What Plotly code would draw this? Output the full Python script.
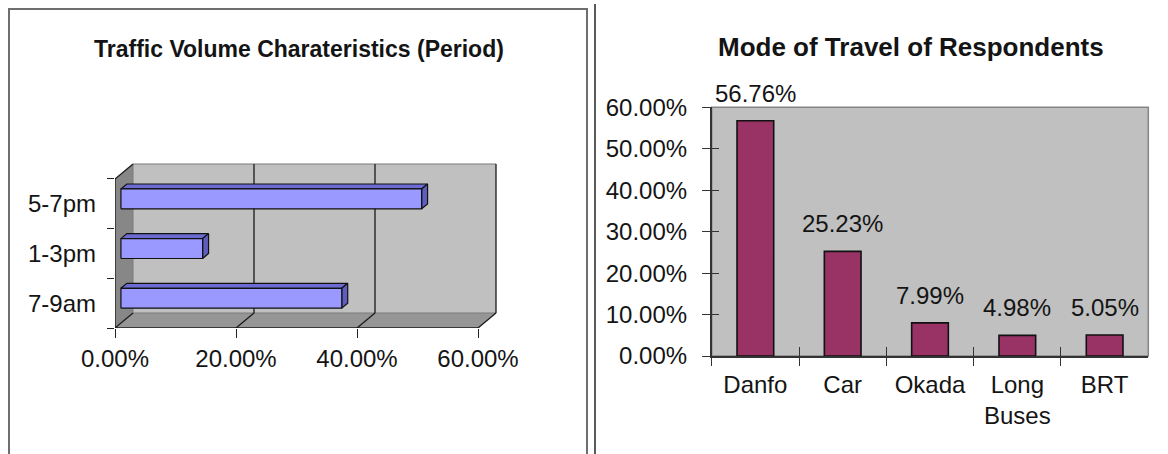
import plotly.graph_objects as go

# ---------------- data ----------------
periods = ["7-9am", "1-3pm", "5-7pm"]
period_share = [36.5, 13.5, 49.7]
period_ticks = [0, 20, 40, 60]

modes = ["Danfo", "Car", "Okada", "Long<br>Buses", "BRT"]
mode_share = [56.76, 25.23, 7.99, 4.98, 5.05]
mode_ticks = [0, 10, 20, 30, 40, 50, 60]

left_title = "Traffic Volume Charateristics (Period)"
right_title = "Mode of Travel of Respondents"

# ---------------- layout helpers ----------------
W, H = 1168, 454
FONT = "Arial, 'Liberation Sans', sans-serif"
TXT = "#141414"


def fx(px):
    return px / W


def fy(py):
    return 1 - py / H


# left (pseudo 3-D) chart geometry, in pixels
L_X0, L_PXPCT, L_RIGHT = 115, 6.05, 520
L_FLOOR, L_TOP, L_BAND = 328, 150, 49.67
xr = [0, (L_RIGHT - L_X0) / L_PXPCT]
yr = [-0.5, -0.5 + (L_FLOOR - L_TOP) / L_BAND]
DX = 18 / L_PXPCT          # wall depth in % units
DY = 15 / L_BAND           # wall depth in category units
XMAX = period_ticks[-1]
ylo, yhi = -0.5, len(periods) - 0.5


def poly(xs, ys, fill, line="rgba(0,0,0,0)", w=0):
    return go.Scatter(x=xs + [xs[0]], y=ys + [ys[0]], fill="toself", fillcolor=fill,
                      mode="lines", line=dict(color=line, width=w),
                      hoverinfo="skip", showlegend=False, xaxis="x", yaxis="y")


def segs(pairs, color, w):
    xs, ys = [], []
    for (a, b), (c, d) in pairs:
        xs += [a, c, None]
        ys += [b, d, None]
    return go.Scatter(x=xs, y=ys, mode="lines", line=dict(color=color, width=w),
                      hoverinfo="skip", showlegend=False, xaxis="x", yaxis="y")


traces = []
# walls
traces.append(poly([DX, XMAX + DX, XMAX + DX, DX], [ylo + DY, ylo + DY, yhi + DY, yhi + DY], "#C0C0C0"))
traces.append(poly([0, DX, DX, 0], [ylo, ylo + DY, yhi + DY, yhi], "#878787"))
traces.append(poly([0, XMAX, XMAX + DX, DX], [ylo, ylo, ylo + DY, ylo + DY], "#969696"))
# soft wall edges
traces.append(segs([((DX, yhi + DY), (XMAX + DX, yhi + DY)),
                    ((DX, ylo + DY), (DX, yhi + DY)),
                    ((DX, ylo + DY), (XMAX + DX, ylo + DY))], "#7a7a7a", 1))
# gridlines + dark edges
dark = []
for t in period_ticks[1:]:
    dark.append(((t + DX, ylo + DY), (t + DX, yhi + DY)))
for t in period_ticks:
    dark.append(((t, ylo), (t + DX, ylo + DY)))
dark.append(((0, ylo), (XMAX, ylo)))
dark.append(((0, ylo), (0, yhi)))
dark.append(((0, yhi), (DX, yhi + DY)))
traces.append(segs(dark, "#1a1a1a", 1.3))

# bars
FB = 0.33
bdx, bdy = FB * DX, FB * DY
for i, v in enumerate(period_share):
    x0 = FB * DX
    y0 = i - 0.2 + FB * DY
    y1 = i + 0.2 + FB * DY
    traces.append(poly([x0, x0 + v, x0 + v + bdx, x0 + bdx], [y1, y1, y1 + bdy, y1 + bdy],
                       "#6B6BD2", "#111", 1.2))
    traces.append(poly([x0 + v, x0 + v + bdx, x0 + v + bdx, x0 + v], [y0, y0 + bdy, y1 + bdy, y1],
                       "#5E5EBE", "#111", 1.2))
    traces.append(poly([x0, x0 + v, x0 + v, x0], [y0, y0, y1, y1], "#9999FF", "#111", 1.2))

# helper trace for y label axis
traces.append(go.Scatter(x=[None], y=[None], xaxis="x", yaxis="y3", showlegend=False, hoverinfo="skip"))

# right chart
traces.append(go.Bar(x=modes, y=mode_share, xaxis="x2", yaxis="y2",
                     marker=dict(color="#993366", line=dict(color="#111", width=1.6)),
                     hoverinfo="skip", showlegend=False))
traces.append(go.Scatter(x=[None], y=[None], xaxis="x4", yaxis="y2", showlegend=False, hoverinfo="skip"))
traces.append(go.Scatter(x=[None], y=[None], xaxis="x2", yaxis="y4", showlegend=False, hoverinfo="skip"))

fig = go.Figure(traces)

tick_font = dict(family=FONT, size=24, color=TXT)
R_L, R_R, R_T, R_B = 711.7, 1148.3, 107.3, 356

fig.update_layout(
    template="none",
    width=W, height=H, margin=dict(l=0, r=0, t=0, b=0, pad=0, autoexpand=False),
    paper_bgcolor="white", plot_bgcolor="rgba(0,0,0,0)",
    font=dict(family=FONT, color=TXT), bargap=0.58, showlegend=False,
    xaxis=dict(domain=[fx(L_X0), fx(L_RIGHT)], range=xr, anchor="y", automargin=False,
               tickvals=period_ticks, ticktext=[f"{t:.2f}%" for t in period_ticks],
               ticks="outside", ticklen=9, tickcolor="#222", tickwidth=1.3,
               showgrid=False, zeroline=False, showline=False, tickfont=tick_font,
               ticklabelstandoff=0),
    yaxis=dict(domain=[fy(L_FLOOR), fy(L_TOP)], range=yr, anchor="x", automargin=False,
               tickvals=[k - 0.5 for k in range(len(periods) + 1)],
               ticks="outside", ticklen=7, tickcolor="#222", tickwidth=1.3,
               showticklabels=False, showgrid=False, zeroline=False, showline=False),
    yaxis3=dict(overlaying="y", anchor="x", side="left", range=yr, automargin=False,
                tickvals=list(range(len(periods))), ticktext=periods, ticks="",
                showgrid=False, zeroline=False, showline=False, tickfont=tick_font,
                ticklabelstandoff=18),
    xaxis2=dict(domain=[fx(R_L), fx(R_R)], anchor="y2", type="category", automargin=False,
                range=[-0.5, len(modes) - 0.5], tickson="boundaries",
                ticks="outside", ticklen=8, tickcolor="#333", tickwidth=1.3,
                showline=True, linecolor="#333", linewidth=1.6,
                showgrid=False, zeroline=False, tickfont=tick_font, ticklabelstandoff=6),
    yaxis2=dict(domain=[fy(R_B), fy(R_T)], anchor="x2", range=[0, 60], automargin=False,
                tickvals=mode_ticks, ticktext=[f"{t:.2f}%" for t in mode_ticks],
                ticks="outside", ticklen=8, tickcolor="#333", tickwidth=1.3,
                showline=True, linecolor="#333", linewidth=1.6,
                showgrid=False, zeroline=False, tickfont=tick_font, ticklabelstandoff=10),
    xaxis4=dict(overlaying="x2", anchor="y2", range=[-0.5, len(modes) - 0.5], automargin=False,
                tickvals=[k - 0.5 for k in range(len(modes) + 1)], ticks="inside",
                ticklen=9, tickcolor="#333", tickwidth=1.3, showticklabels=False,
                showgrid=False, zeroline=False, showline=False),
    yaxis4=dict(overlaying="y2", anchor="x2", range=[0, 60], tickvals=mode_ticks, automargin=False,
                ticks="inside", ticklen=7, tickcolor="#333", tickwidth=1.3,
                showticklabels=False, showgrid=False, zeroline=False, showline=False),
)

shapes = [
    dict(type="rect", xref="x2 domain", yref="y2 domain", x0=0, x1=1, y0=0, y1=1,
         fillcolor="#C0C0C0", line=dict(color="#858585", width=1.5), layer="below"),
    dict(type="rect", xref="paper", yref="paper", x0=fx(9), x1=fx(587), y0=fy(475), y1=fy(9),
         fillcolor="rgba(0,0,0,0)", line=dict(color="#6e6e6e", width=2), layer="below"),
    dict(type="line", xref="paper", yref="paper", x0=fx(595), x1=fx(595), y0=fy(4), y1=fy(470),
         line=dict(color="#5a5a5a", width=2)),
]
fig.update_layout(shapes=shapes)

annotations = [
    dict(xref="paper", yref="paper", x=fx(299), y=fy(49), text=f"<b>{left_title}</b>",
         showarrow=False, xanchor="center", yanchor="middle",
         font=dict(family=FONT, size=23, color=TXT)),
    dict(xref="paper", yref="paper", x=fx(911), y=fy(47.5), text=f"<b>{right_title}</b>",
         showarrow=False, xanchor="center", yanchor="middle",
         font=dict(family=FONT, size=26, color=TXT)),
]
for i, v in enumerate(mode_share):
    annotations.append(dict(xref="x2", yref="y2", x=i, y=v, text=f"{v:.2f}%",
                            showarrow=False, xanchor="center", yanchor="bottom", yshift=12,
                            font=dict(family=FONT, size=24, color=TXT)))
fig.update_layout(annotations=annotations)

fig.write_html("out.html")
